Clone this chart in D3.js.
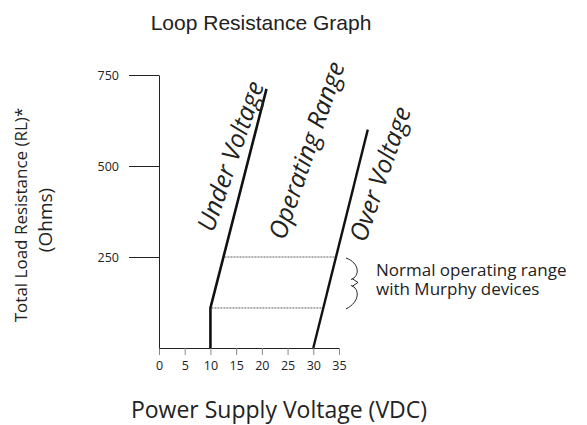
<!DOCTYPE html>
<html>
<head>
  <meta charset="utf-8">
  <title>Loop Resistance Graph</title>
  <style>
    body { margin: 0; background: #fff; }
    svg text { fill: #222; }
    .axis text { font-family: "Open Sans", sans-serif; font-size: 12.5px; }
    .label { font-family: "Open Sans", sans-serif; font-style: italic; font-size: 25px; }
  </style>
</head>
<body>
<script src="https://cdn.jsdelivr.net/npm/d3@7"></script>
<script>
  // data (volts, ohms)
  var xTicks = [0, 5, 10, 15, 20, 25, 30, 35];
  var yTicks = [250, 500, 750];
  var underVoltage = [[10, 0], [10, 110], [20.9, 712]];
  var overVoltage = [[30, 0], [40.6, 600]];
  var normalRange = [110, 250];
  var regionNames = ["Under Voltage", "Operating Range", "Over Voltage"];
  var regionPos = [[13.9, 527], [28.7, 543], [43, 478]];
  var noteLines = ["Normal operating range", "with Murphy devices"];

  var W = 587, H = 425;
  var margin = { top: 75, left: 159, right: 248, bottom: 77 },
    width = W - margin.left - margin.right,
    height = H - margin.top - margin.bottom;

  var svg = d3.select("body").append("svg")
    .attr("width", W)
    .attr("height", H);

  var g = svg.append("g")
    .attr("transform", "translate(" + margin.left + "," + margin.top + ")");

  var x = d3.scaleLinear().domain([0, 35]).range([0, width]);
  var y = d3.scaleLinear().domain([0, 750]).range([height, 0]);

  // title
  svg.append("text")
    .attr("x", 261).attr("y", 30)
    .attr("text-anchor", "middle")
    .style("font-family", "'Liberation Sans', Arial, sans-serif")
    .style("font-size", "21px")
    .text("Loop Resistance Graph");

  // axes
  var xAxis = g.append("g")
    .attr("class", "axis")
    .attr("transform", "translate(0," + height + ")")
    .call(d3.axisBottom(x).tickValues(xTicks).tickSize(7).tickSizeOuter(0).tickPadding(6));
  xAxis.select(".domain").attr("stroke", "#222");
  xAxis.selectAll(".tick line").attr("stroke", "#888");

  var yAxis = g.append("g")
    .attr("class", "axis")
    .call(d3.axisLeft(y).tickValues(yTicks).tickSize(30).tickSizeOuter(0).tickPadding(10));
  yAxis.select(".domain").attr("stroke", "#222");
  yAxis.selectAll(".tick line").attr("stroke", "#222");

  // axis titles
  svg.append("text")
    .attr("transform", "translate(27,215) rotate(-90)")
    .attr("text-anchor", "middle")
    .style("font-family", "'Open Sans', sans-serif")
    .style("font-size", "17px")
    .text("Total Load Resistance (RL)*");
  svg.append("text")
    .attr("transform", "translate(52,220) rotate(-90)")
    .attr("text-anchor", "middle")
    .style("font-family", "'Open Sans', sans-serif")
    .style("font-size", "19px")
    .text("(Ohms)");
  svg.append("text")
    .attr("x", 279).attr("y", 418)
    .attr("text-anchor", "middle")
    .style("font-family", "'Open Sans', sans-serif")
    .style("font-size", "23px")
    .text("Power Supply Voltage (VDC)");

  // boundary lines
  var line = d3.line().x(d => x(d[0])).y(d => y(d[1]));
  g.append("path").datum(underVoltage)
    .attr("d", line).attr("fill", "none")
    .attr("stroke", "#111").attr("stroke-width", 2.6);
  g.append("path").datum(overVoltage)
    .attr("d", line).attr("fill", "none")
    .attr("stroke", "#111").attr("stroke-width", 2.4);

  // voltage on a boundary at a given resistance
  function voltAt(pts, r) {
    for (var i = 1; i < pts.length; i++) {
      var a = pts[i - 1], b = pts[i];
      if (r >= a[1] && r <= b[1] && b[1] != a[1]) {
        return a[0] + (b[0] - a[0]) * (r - a[1]) / (b[1] - a[1]);
      }
    }
    return pts[pts.length - 1][0];
  }

  g.selectAll(".range")
    .data(normalRange)
    .join("line")
    .attr("class", "range")
    .attr("x1", d => x(voltAt(underVoltage, d)) + 1)
    .attr("x2", d => x(voltAt(overVoltage, d)) - 1)
    .attr("y1", d => y(d))
    .attr("y2", d => y(d))
    .attr("stroke", "#333")
    .attr("stroke-width", 0.8)
    .attr("stroke-dasharray", "2,1");

  // region labels
  g.selectAll(".label")
    .data(regionNames)
    .join("text")
    .attr("class", "label")
    .attr("text-anchor", "middle")
    .attr("dy", "0.35em")
    .attr("transform", (d, i) => "translate(" + x(regionPos[i][0]) + "," + y(regionPos[i][1]) + ") rotate(-71)")
    .text(d => d);

  // brace beside the normal range
  var bTop = y(normalRange[1]), bBot = y(normalRange[0]), bMid = (bTop + bBot) / 2;
  var bx = x(35) + 7;
  g.append("path")
    .attr("d", "M" + bx + "," + (bTop + 1) +
      " C" + (bx + 14) + "," + (bTop + 6) + " " + (bx + 14) + "," + (bMid - 6) + " " + (bx + 5) + "," + (bMid - 3) +
      " M" + (bx + 6) + "," + (bMid - 4) + " L" + (bx + 12) + "," + bMid + " L" + (bx + 6) + "," + (bMid + 4) +
      " M" + (bx + 5) + "," + (bMid + 3) +
      " C" + (bx + 14) + "," + (bMid + 6) + " " + (bx + 14) + "," + (bBot - 6) + " " + bx + "," + (bBot + 1))
    .attr("fill", "none")
    .attr("stroke", "#222")
    .attr("stroke-width", 1);

  var note = svg.append("text")
    .attr("x", 376).attr("y", 276)
    .style("font-family", "'Open Sans', sans-serif")
    .style("font-size", "17px");
  note.selectAll("tspan")
    .data(noteLines)
    .join("tspan")
    .attr("x", 376)
    .attr("dy", (d, i) => i ? 19 : 0)
    .text(d => d);
</script>
</body>
</html>
